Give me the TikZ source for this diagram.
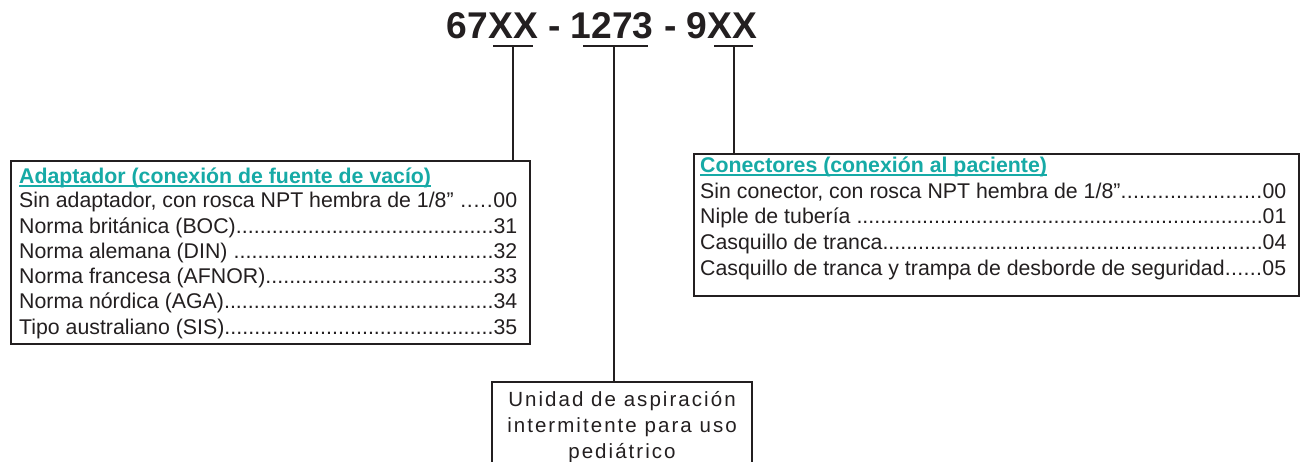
\documentclass[tikz,border=0pt]{standalone}
\usepackage{fontspec}
\setmainfont{Liberation Sans}
\definecolor{ink}{RGB}{35,31,32}
\definecolor{tealhead}{RGB}{22,170,166}
\newcommand\leaderdots{\xleaders\hbox{.}\hfill}
\begin{document}
\begin{tikzpicture}[x=1pt,y=-1pt,
  box/.style={draw=ink, line width=2.4pt, inner sep=0pt, anchor=north west},
  conn/.style={draw=ink, line width=2pt},
  row/.style={anchor=base west, inner sep=0pt, text=ink, font=\fontsize{21.3}{25}\selectfont},
  head/.style={anchor=base west, inner sep=0pt, text=tealhead, font=\fontsize{21.3}{25}\selectfont\bfseries},
  uline/.style={draw=tealhead, line width=1.6pt},
  unittext/.style={anchor=base, inner sep=0pt, text=ink, font=\fontsize{20.5}{24}\selectfont\addfontfeature{LetterSpace=10}},
  titletext/.style={anchor=base, inner sep=0pt, text=ink, font=\fontsize{37.2}{40}\selectfont\bfseries}]
\clip (0,0) rectangle (1303,461);
\fill[white] (0,0) rectangle (1303,461);

% title
\node[titletext] (title) at (602,38) {67XX - 1273 - 9XX};

% underline bars
\coordinate (b1l) at (493,46); \coordinate (b1r) at (533,46); \coordinate (b1m) at (513,46);
\coordinate (b2l) at (583,46); \coordinate (b2r) at (648,46); \coordinate (b2m) at (614,46);
\coordinate (b3l) at (714,46); \coordinate (b3r) at (753,46); \coordinate (b3m) at (734,46);
\draw[conn] (b1l) -- (b1r);
\draw[conn] (b2l) -- (b2r);
\draw[conn] (b3l) -- (b3r);

% boxes
\node[box, minimum width=519pt, minimum height=183pt] (adapt) at (10,160) {};
\node[box, minimum width=605pt, minimum height=142pt] (conec) at (693,153) {};
\node[box, minimum width=260pt, minimum height=130pt] (unit) at (491,381) {};

% connectors
\draw[conn] (b1m) -- (b1m |- adapt.north);
\draw[conn] (b2m) -- (b2m |- unit.north);
\draw[conn] (b3m) -- (b3m |- conec.north);

% left box text
\node[head] (ah) at (19,183) {Adaptador (conexión de fuente de vacío)};
\draw[uline] ([yshift=-3pt]ah.base west) -- ([yshift=-3pt]ah.base east);
\node[row] (a0) at (19,207) {\hbox to 498pt{Sin adaptador, con rosca NPT hembra de 1/8” \leaderdots00}};
\node[row] (a1) at (19,233) {\hbox to 498pt{Norma británica (BOC)\leaderdots31}};
\node[row] (a2) at (19,258) {\hbox to 498pt{Norma alemana (DIN) \leaderdots32}};
\node[row] (a3) at (19,283) {\hbox to 498pt{Norma francesa (AFNOR)\leaderdots33}};
\node[row] (a4) at (19,308) {\hbox to 498pt{Norma nórdica (AGA)\leaderdots34}};
\node[row] (a5) at (19,334) {\hbox to 498pt{Tipo australiano (SIS)\leaderdots35}};

% right box text
\node[head] (ch) at (700,172) {Conectores (conexión al paciente)};
\draw[uline] ([yshift=-3pt]ch.base west) -- ([yshift=-3pt]ch.base east);
\node[row] (c0) at (700,198) {\hbox to 586pt{Sin conector, con rosca NPT hembra de 1/8”\leaderdots00}};
\node[row] (c1) at (700,223) {\hbox to 586pt{Niple de tubería \leaderdots01}};
\node[row] (c2) at (700,249) {\hbox to 586pt{Casquillo de tranca\leaderdots04}};
\node[row] (c3) at (700,275) {\hbox to 586pt{Casquillo de tranca y trampa de desborde de seguridad\leaderdots05}};

% bottom box text
\node[unittext] (u1) at (622,406) {Unidad de aspiración};
\node[unittext] (u2) at (622,432) {intermitente para uso};
\node[unittext] (u3) at (622,458) {pediátrico};
\end{tikzpicture}
\end{document}
